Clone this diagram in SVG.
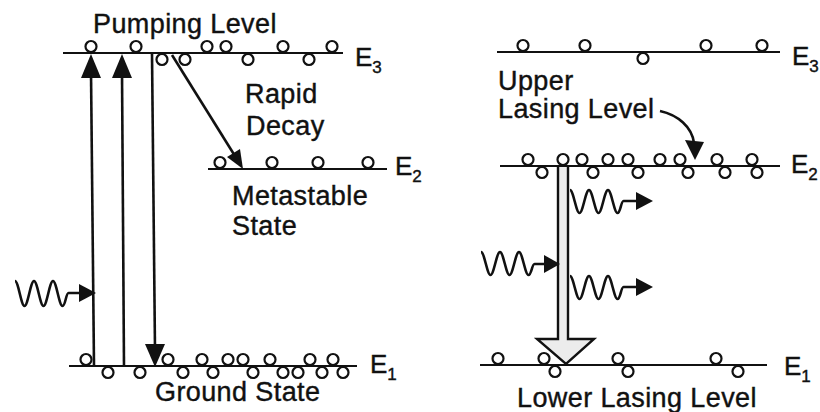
<svg xmlns="http://www.w3.org/2000/svg" width="820" height="412" viewBox="0 0 820 412">
<style>
.lvl{stroke:#111;stroke-width:2.2;fill:none}
.at circle{fill:#fff;stroke:#111;stroke-width:2.2}
.lbl{font-family:"Liberation Sans",Arial,sans-serif;font-size:27px;fill:#111;stroke:#111;stroke-width:0.4;letter-spacing:0.4px}
.e{font-family:"Liberation Sans",Arial,sans-serif;font-size:26px;fill:#111;stroke:#111;stroke-width:0.4}
.sub{font-size:17px}
.ar{stroke:#111;stroke-width:2.6;fill:none}
.hd{fill:#111;stroke:none}
.wv{stroke:#111;stroke-width:2.6;fill:none;stroke-linejoin:round}
</style>
<rect width="820" height="412" fill="#fff"/>

<g id="left-E3">
<line class="lvl" x1="63" y1="53" x2="343" y2="53"/>
<g class="at">
<circle cx="91" cy="46.5" r="5.5"/><circle cx="136" cy="46.5" r="5.5"/><circle cx="207" cy="46.5" r="5.5"/><circle cx="226" cy="46.5" r="5.5"/><circle cx="283" cy="46.5" r="5.5"/><circle cx="332" cy="46.5" r="5.5"/>
<circle cx="162" cy="59.5" r="5.5"/><circle cx="185" cy="59.5" r="5.5"/><circle cx="248" cy="59.5" r="5.5"/><circle cx="309" cy="59.5" r="5.5"/>
</g>
<text class="e" x="355" y="66">E<tspan class="sub" dy="7">3</tspan></text>
</g>

<g id="left-E2">
<line class="lvl" x1="208" y1="169" x2="387" y2="169"/>
<g class="at">
<circle cx="220" cy="162.5" r="5.5"/><circle cx="272" cy="162.5" r="5.5"/><circle cx="318" cy="162.5" r="5.5"/><circle cx="368" cy="162.5" r="5.5"/>
</g>
<text class="e" x="395" y="175">E<tspan class="sub" dy="7">2</tspan></text>
</g>

<g id="left-E1">
<line class="lvl" x1="69" y1="366" x2="357" y2="366"/>
<g class="at">
<circle cx="86" cy="359.5" r="5.5"/><circle cx="168" cy="359.5" r="5.5"/><circle cx="202" cy="359.5" r="5.5"/><circle cx="228" cy="359.5" r="5.5"/><circle cx="243" cy="359.5" r="5.5"/><circle cx="270" cy="359.5" r="5.5"/><circle cx="310" cy="359.5" r="5.5"/><circle cx="333" cy="359.5" r="5.5"/>
<circle cx="108" cy="372.5" r="5.5"/><circle cx="140" cy="372.5" r="5.5"/><circle cx="183" cy="372.5" r="5.5"/><circle cx="213" cy="372.5" r="5.5"/><circle cx="253" cy="372.5" r="5.5"/><circle cx="283" cy="372.5" r="5.5"/><circle cx="298" cy="372.5" r="5.5"/><circle cx="322" cy="372.5" r="5.5"/><circle cx="343" cy="372.5" r="5.5"/>
</g>
<text class="e" x="370" y="373">E<tspan class="sub" dy="7">1</tspan></text>
</g>

<g id="label-pumping"><text class="lbl" x="93" y="33">Pumping Level</text></g>
<g id="label-rapid"><text class="lbl" x="245" y="103">Rapid</text><text class="lbl" x="246" y="135">Decay</text></g>
<g id="label-metastable"><text class="lbl" x="232" y="205">Metastable</text><text class="lbl" x="232" y="235">State</text></g>
<g id="label-ground"><text class="lbl" x="155" y="401">Ground State</text></g>

<g id="right-E3">
<line class="lvl" x1="497" y1="52" x2="780" y2="52"/>
<g class="at">
<circle cx="523" cy="45.5" r="5.5"/><circle cx="585" cy="45.5" r="5.5"/><circle cx="706" cy="45.5" r="5.5"/><circle cx="762" cy="45.5" r="5.5"/>
<circle cx="643" cy="58.5" r="5.5"/>
</g>
<text class="e" x="792" y="65">E<tspan class="sub" dy="7">3</tspan></text>
</g>

<g id="right-E2">
<line class="lvl" x1="500" y1="166" x2="780" y2="166"/>
<g class="at">
<circle cx="528" cy="159.5" r="5.5"/><circle cx="563" cy="159.5" r="5.5"/><circle cx="582" cy="159.5" r="5.5"/><circle cx="608" cy="159.5" r="5.5"/><circle cx="628" cy="159.5" r="5.5"/><circle cx="660" cy="159.5" r="5.5"/><circle cx="680" cy="159.5" r="5.5"/><circle cx="717" cy="159.5" r="5.5"/><circle cx="752" cy="159.5" r="5.5"/>
<circle cx="542" cy="172.5" r="5.5"/><circle cx="593" cy="172.5" r="5.5"/><circle cx="638" cy="172.5" r="5.5"/><circle cx="688" cy="172.5" r="5.5"/><circle cx="725" cy="172.5" r="5.5"/><circle cx="757" cy="172.5" r="5.5"/>
</g>
<text class="e" x="791" y="173">E<tspan class="sub" dy="7">2</tspan></text>
</g>

<g id="right-E1">
<line class="lvl" x1="480" y1="365" x2="767" y2="365"/>
<g class="at">
<circle cx="498" cy="358.5" r="5.5"/><circle cx="544" cy="358.5" r="5.5"/><circle cx="618" cy="358.5" r="5.5"/><circle cx="716" cy="358.5" r="5.5"/>
<circle cx="555" cy="371.5" r="5.5"/><circle cx="628" cy="371.5" r="5.5"/><circle cx="738" cy="371.5" r="5.5"/>
</g>
<text class="e" x="784" y="375">E<tspan class="sub" dy="7">1</tspan></text>
</g>

<g id="label-upper"><text class="lbl" x="498" y="90">Upper</text><text class="lbl" x="498" y="118">Lasing Level</text></g>
<g id="label-lower"><text class="lbl" x="517" y="407">Lower Lasing Level</text></g>

<g id="connectors">
<line class="ar" x1="94" y1="366" x2="91" y2="72"/>
<polygon class="hd" points="91,54 81,78 101,78"/>
<line class="ar" x1="124" y1="366" x2="122" y2="72"/>
<polygon class="hd" points="122,54 112,78 132,78"/>
<line class="ar" x1="152" y1="54" x2="155" y2="350"/>
<polygon class="hd" points="155,367 145,344 165,344"/>
<line class="ar" x1="172" y1="55" x2="235" y2="156"/>
<polygon class="hd" points="243,169 227,157 240,149"/>
<path class="wv" d="M15 281 c3.4 0 6.1 25 9.5 25 c3.4 0 6.1 -25 9.5 -25 c3.4 0 6.1 25 9.5 25 c3.4 0 6.1 -25 9.5 -25 c3.4 0 6.1 25 9.5 25 c3 0 3.5 -13 6 -13 L82 293"/>
<polygon class="hd" points="96,293 79,284 79,302"/>
<path class="ar" d="M660 111 C678 115 692 127 694 143"/>
<polygon class="hd" points="695,160 685,140 704,142"/>
<path d="M558 167 L558 339 L537 339 L566 364 L594 339 L568 339 L568 167" fill="#ececec" stroke="#111" stroke-width="2.4" stroke-linejoin="miter"/>
<path class="wv" d="M481 252 c3.4 0 6.1 23 9.5 23 c3.4 0 6.1 -23 9.5 -23 c3.4 0 6.1 23 9.5 23 c3.4 0 6.1 -23 9.5 -23 c3.4 0 6.1 23 9.5 23 c3 0 3.5 -11 6 -11 L547 264"/>
<polygon class="hd" points="560,264 544,255 544,273"/>
<path class="wv" d="M570 190 c3.4 0 6.1 23 9.5 23 c3.4 0 6.1 -23 9.5 -23 c3.4 0 6.1 23 9.5 23 c3.4 0 6.1 -23 9.5 -23 c3.4 0 6.1 23 9.5 23 c3 0 3.5 -12 6 -12 L638 201"/>
<polygon class="hd" points="653,201 636,192 636,210"/>
<path class="wv" d="M570 276 c3.4 0 6.1 23 9.5 23 c3.4 0 6.1 -23 9.5 -23 c3.4 0 6.1 23 9.5 23 c3.4 0 6.1 -23 9.5 -23 c3.4 0 6.1 23 9.5 23 c3 0 3.5 -12 6 -12 L638 287"/>
<polygon class="hd" points="653,287 636,278 636,296"/>
</g>
</svg>
